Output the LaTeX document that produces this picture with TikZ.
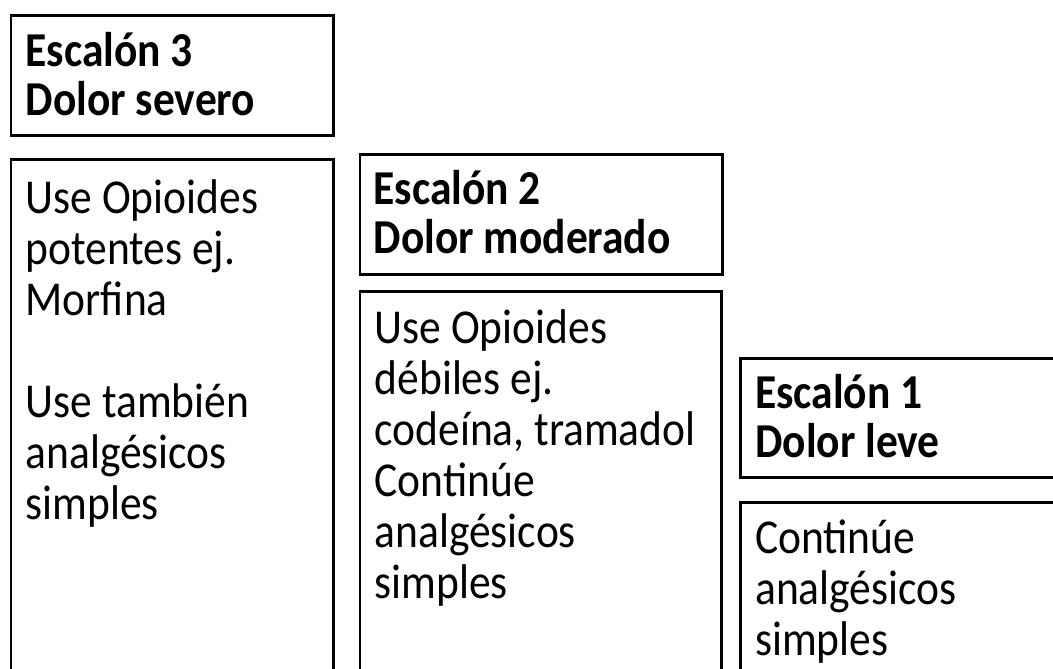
\documentclass[tikz,border=0pt]{standalone}
\usepackage{fontspec}
\setmainfont{Carlito}
\usepackage{tikz}

\begin{document}
\begin{tikzpicture}[x=1pt, y=-1pt,
    caja/.style={draw, line width=2.8pt, anchor=north west, inner sep=0pt},
    texto/.style={anchor=base west, align=left, inner sep=0pt,
      font=\fontsize{43.5}{45.4}\selectfont, yscale=1.12, transform shape},
    cabeza/.style={texto, font=\fontsize{43.5}{42.9}\selectfont\bfseries}]
      \useasboundingbox (0, 0) rectangle (1053, 669);
      \clip (0, 0) rectangle (1053, 669);
      % escalon 3
      \node[caja, minimum width=322.5pt, minimum height=120pt] (esc3) at (9.5, 14) {};
      \node[caja, minimum width=322.5pt, minimum height=560pt] (cont3) at (9.5, 158) {};
      % escalon 2
      \node[caja, minimum width=362.5pt, minimum height=120pt] (esc2) at (358.5, 153) {};
      \node[caja, minimum width=361.5pt, minimum height=430pt] (cont2) at (358.5, 290) {};
      % escalon 1
      \node[caja, minimum width=340pt, minimum height=119pt] (esc1) at (739, 357) {};
      \node[caja, minimum width=340pt, minimum height=220pt] (cont1) at (739, 501) {};
      % textos (base = ultima linea)
      \node[cabeza] (t3) at ([shift={(16, 101)}]esc3.north west) {Escalón 3\\Dolor severo};
      \node[texto] (u3) at ([shift={(16, 361)}]cont3.north west) {Use Opioides\\potentes ej.\\Morfina\\[45.4pt]Use también\\analgésicos\\simples};
      \node[cabeza] (t2) at ([shift={(15, 100)}]esc2.north west) {Escalón 2\\Dolor moderado};
      \node[texto] (u2) at ([shift={(16, 308)}]cont2.north west) {Use Opioides\\débiles ej.\\codeína, tramadol\\Continúe\\analgésicos\\simples};
      \node[cabeza] (t1) at ([shift={(16, 100)}]esc1.north west) {Escalón 1\\Dolor leve};
      \node[texto] (u1) at ([shift={(16, 154)}]cont1.north west) {Continúe\\analgésicos\\simples};
    \end{tikzpicture}
\end{document}
